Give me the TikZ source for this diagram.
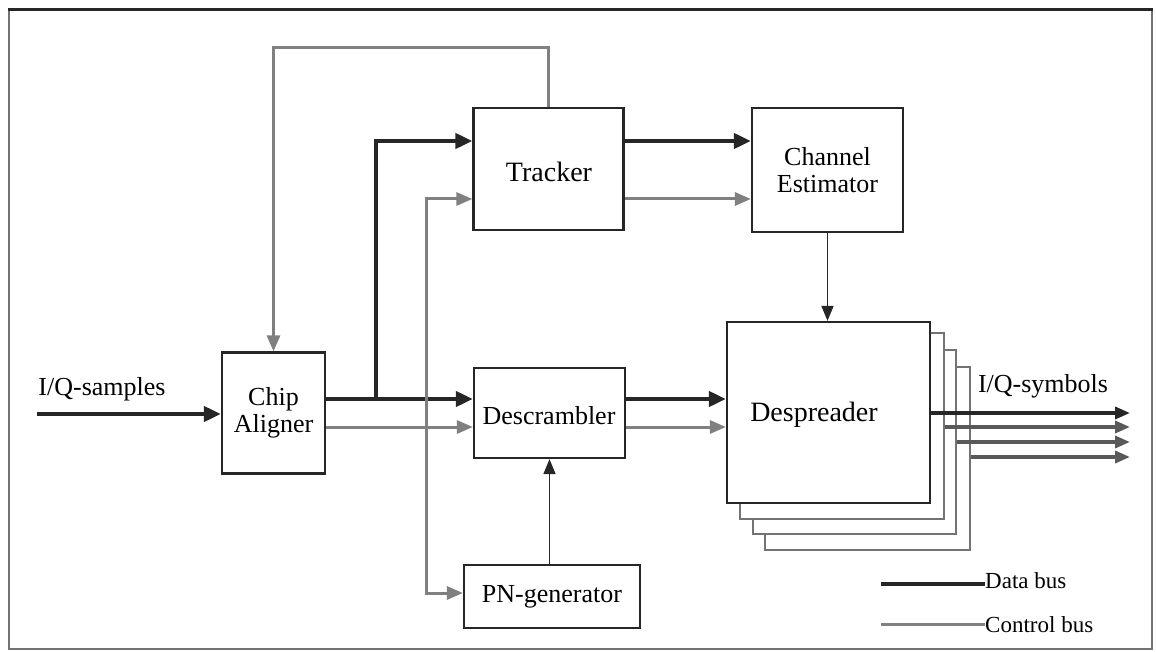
\documentclass[tikz,border=0pt]{standalone}
\usepackage{fontspec}
\setmainfont{Liberation Serif}
\usetikzlibrary{arrows.meta}
\begin{document}
\begin{tikzpicture}[x=1pt,y=-1pt,
  blk/.style={draw=black!85, line width=2.2pt, fill=white, inner sep=0pt, align=center,
    font=\fontsize{26}{27}\selectfont},
  shadow/.style={draw=black!55, line width=2pt, fill=white, inner sep=0pt},
  lbl/.style={inner sep=0pt, font=\fontsize{26}{27}\selectfont},
  big/.style={inner sep=0pt, font=\fontsize{28}{29}\selectfont},
  leg/.style={inner sep=0pt, anchor=west, font=\fontsize{23}{24}\selectfont},
  data/.style={line width=4pt, draw=black!85, -{Triangle[length=17pt,width=15pt]}},
  ctrl/.style={line width=3pt, draw=black!50, -{Triangle[length=16pt,width=13pt]}},
  outg/.style={line width=3.5pt, draw=black!65, -{Triangle[length=15pt,width=12pt]}},
  thin/.style={line width=1.6pt, draw=black!85, -{Triangle[length=15pt,width=12pt]}},
  busdata/.style={line width=4.5pt, draw=black!85},
  busctrl/.style={line width=3pt, draw=black!50}]
\useasboundingbox (0,0) rectangle (1156,652);
% frame
\draw[line width=2pt, draw=black!55] (9,10) -- (9,649) -- (1152,649) -- (1152,10);
\draw[line width=3pt, draw=black!85] (8,10) -- (1153,10);

% blocks
\node[blk, minimum width=103pt, minimum height=121pt] (ca) at (273.5,413) {Chip\\Aligner};
\node[blk, minimum width=150pt, minimum height=122pt] (tr) at (548.5,169) {};
\node[big] (trt) at (549,172) {Tracker};
\node[blk, minimum width=151pt, minimum height=124pt] (ce) at (827.5,170) {Channel\\Estimator};
\node[blk, minimum width=151pt, minimum height=90pt] (ds) at (549.5,413) {};
\node[lbl] (dst) at (549,416) {Descrambler};
\node[shadow, minimum width=205pt, minimum height=183pt] (s3) at (867.5,458.5) {};
\node[shadow, minimum width=203pt, minimum height=184pt] (s2) at (854.5,442) {};
\node[shadow, minimum width=204pt, minimum height=186pt] (s1) at (842,426) {};
\node[blk, minimum width=203pt, minimum height=181pt] (dsp) at (828.5,412.5) {};
\node[big] (dspt) at (814,415) {Despreader};
\node[blk, minimum width=176pt, minimum height=63pt] (pn) at (552,596.5) {PN-generator};

% labels
\node[lbl] (ins) at (102,389) {I/Q-samples};
\node[lbl] (outs) at (1043,386) {I/Q-symbols};

% input
\coordinate (inp) at (37,414);
\draw[data] (inp) -- (ca.west|-inp);

% chip aligner outputs
\draw[data] (ca.east|-0,399) -- (ds.west|-0,399);
\draw[ctrl] (ca.east|-0,427) -- (ds.west|-0,427);
\coordinate (b1) at (376,399);
\draw[data] (b1) |- (tr.west|-0,141);
\coordinate (b2) at (426,427);
\draw[ctrl] (b2) |- (tr.west|-0,199);
\draw[ctrl] (b2) |- (pn.west|-0,593);

% feedback
\draw[ctrl] (tr.north) -- ++(0,-59) -| (ca.north);

% tracker -> channel estimator
\draw[data] (tr.east|-0,141) -- (ce.west|-0,141);
\draw[ctrl] (tr.east|-0,199) -- (ce.west|-0,199);
\draw[thin] (ce.south) -- (ce.south|-dsp.north);

% descrambler -> despreader
\draw[data] (ds.east|-0,399) -- (dsp.west|-0,399);
\draw[ctrl] (ds.east|-0,427) -- (dsp.west|-0,427);
\draw[thin] (ds.south|-pn.north) -- (ds.south);

% outputs
\coordinate (o1) at (1130,413);
\coordinate (o2) at (1130,427);
\coordinate (o3) at (1130,442);
\coordinate (o4) at (1130,457);
\draw[data, line width=3.5pt, -{Triangle[length=15pt,width=12pt]}] (dsp.east|-o1) -- (o1);
\draw[outg] (s1.east|-o2) -- (o2);
\draw[outg] (s2.east|-o3) -- (o3);
\draw[outg] (s3.east|-o4) -- (o4);

% legend
\node[leg] (ld) at (985,581) {Data bus};
\node[leg] (lc) at (985,625) {Control bus};
\coordinate (la) at (881,584);
\coordinate (lb) at (881,624);
\draw[busdata] (la) -- (la-|ld.west);
\draw[busctrl] (lb) -- (lb-|lc.west);
\end{tikzpicture}
\end{document}
